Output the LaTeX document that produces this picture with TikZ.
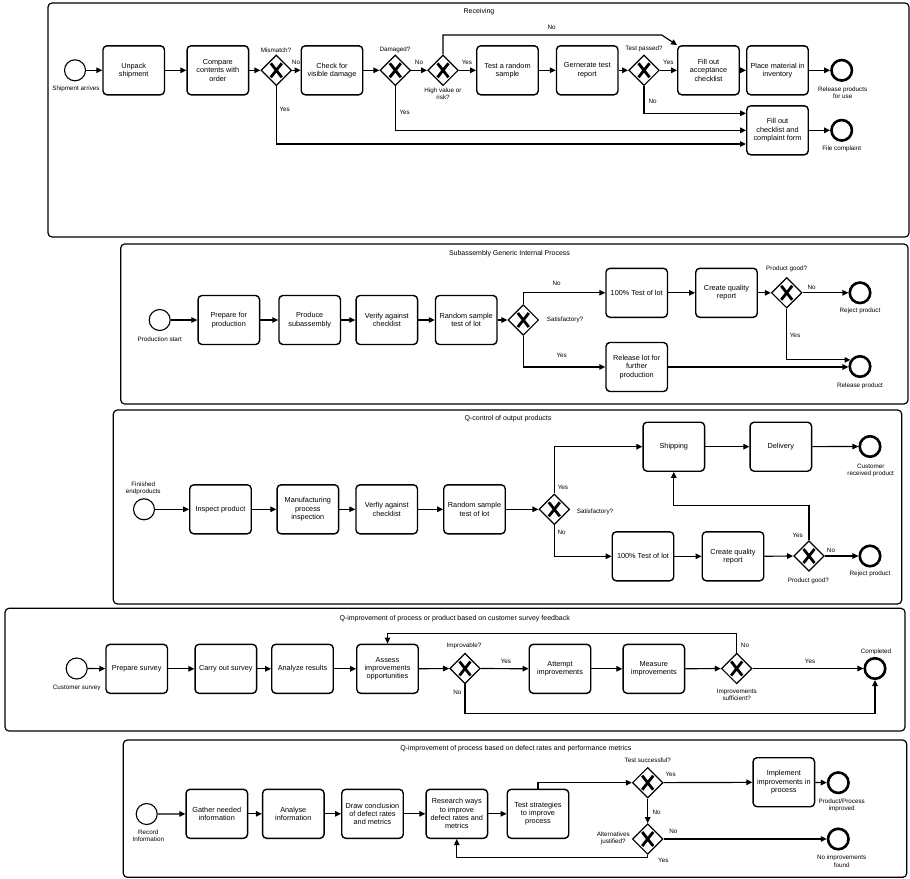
\documentclass[tikz,border=0pt]{standalone}
\usepackage{fontspec}
\setmainfont{Liberation Sans}
\usetikzlibrary{arrows.meta,shapes.geometric,calc}
\begin{document}
\begin{tikzpicture}[x=1pt,y=-1pt,
  task/.style={draw, rounded corners=4pt, line width=1.4pt, minimum width=61.5pt, minimum height=49pt, align=center, inner sep=1pt, font=\fontsize{7.3}{8.3}\selectfont},
  gw/.style={draw, diamond, aspect=1, line width=1.2pt, minimum width=30.6pt, minimum height=30.6pt, inner sep=0pt,
    path picture={\draw[line width=2.8pt] ($(path picture bounding box.center)+(-5.5,-7)$) -- ($(path picture bounding box.center)+(5.5,7)$) ($(path picture bounding box.center)+(-5.5,7)$) -- ($(path picture bounding box.center)+(5.5,-7)$);}},
  startev/.style={draw, circle, line width=1.1pt, minimum size=21pt, inner sep=0pt},
  endev/.style={draw, circle, line width=2.6pt, minimum size=20.5pt, inner sep=0pt},
  lbl/.style={font=\fontsize{6.3}{7.2}\selectfont, align=center, inner sep=0pt},
  flow/.style={line width=1.2pt, -{Triangle[length=6pt,width=5.5pt]}},
  pool/.style={draw, rounded corners=4pt, line width=1.2pt},
  title/.style={font=\fontsize{7}{8}\selectfont, inner sep=0pt}]
\fill[white] (0,0) rectangle (910,878);
\useasboundingbox (0,0) rectangle (910,878);

% ================= Pool 1: Receiving
\draw[pool] (48,3) rectangle (909,237);
\node[title] (t1) at (479,12) {Receiving};
\node[startev] (s1) at (75,70.3) {};
\node[lbl] (s1l) at (76,89) {Shipment arrives};
\node[task] (unpack) at (133.7,70.3) {Unpack\\shipment};
\node[task] (compare) at (217.8,70.3) {Compare\\contents with\\order};
\node[gw] (mism) at (276.3,70.3) {};
\node[lbl] (misml) at (276,50.7) {Mismatch?};
\node[task] (check) at (332,70.3) {Check for\\visible damage};
\node[gw] (dam) at (395.3,70.3) {};
\node[lbl] (daml) at (395,50) {Damaged?};
\node[gw] (hv) at (443,70.3) {};
\node[lbl] (hvl) at (443,94) {High value or\\risk?};
\node[task] (test) at (507.5,70.3) {Test a random\\sample};
\node[task] (gen) at (587.2,70.3) {Gernerate test\\report};
\node[gw] (tp) at (644,70.3) {};
\node[lbl] (tpl) at (644,49.3) {Test passed?};
\node[task] (accept) at (708.5,70.3) {Fill out\\acceptance\\checklist};
\node[task] (place) at (777.5,70.3) {Place material in\\inventory};
\node[endev] (e1) at (841.7,70.3) {};
\node[lbl] (e1l) at (842.7,93) {Release products\\for use};
\node[task] (compl) at (777.5,130.3) {Fill out\\checklist and\\complaint form};
\node[endev] (e2) at (841.7,130.3) {};
\node[lbl] (e2l) at (841.7,149) {File complaint};
\draw[flow] (s1) -- (unpack);
\draw[flow] (unpack) -- (compare);
\draw[flow] (compare) -- (mism);
\draw[flow] (mism) -- (check);
\draw[flow] (check) -- (dam);
\draw[flow] (dam) -- (hv);
\draw[flow] (hv) -- (test);
\draw[flow] (test) -- (gen);
\draw[flow] (gen) -- (tp);
\draw[flow] (tp) -- (accept);
\draw[flow] (accept) -- (place);
\draw[flow] (place) -- (e1);
\draw[flow] (compl) -- (e2);
\coordinate (c1a) at (443,35);
\coordinate (c1b) at (661.7,35);
\draw[flow] (hv.north) -- (c1a) -- (c1b) -- (accept.north west);
\draw[flow] (mism.south) |- ($(compl.west)+(0,13.7)$);
\draw[flow] (dam.south) |- (compl.west);
\draw[flow] (tp.south) |- ($(compl.west)+(0,-17)$);
\node[lbl] (n1a) at (296,62) {No};
\node[lbl] (n1b) at (419,62) {No};
\node[lbl] (n1c) at (467,62) {Yes};
\node[lbl] (n1d) at (668.3,62) {Yes};
\node[lbl] (n1e) at (551.7,27.3) {No};
\node[lbl] (n1f) at (284.7,109) {Yes};
\node[lbl] (n1g) at (404.7,112.7) {Yes};
\node[lbl] (n1h) at (652.7,101) {No};

% ================= Pool 2: Subassembly
\draw[pool] (120.7,244) rectangle (908,404);
\node[title] (t2) at (509.5,253.3) {Subassembly Generic Internal Process};
\node[startev] (s2) at (159.7,320) {};
\node[lbl] (s2l) at (159.7,339.3) {Production start};
\node[task] (prep) at (228.8,320) {Prepare for\\production};
\node[task] (prod) at (309.7,320) {Produce\\subassembly};
\node[task] (verify) at (386.8,320) {Verify against\\checklist};
\node[task] (rand2) at (466.2,320) {Random sample\\test of lot};
\node[gw] (sat2) at (523.3,320) {};
\node[lbl] (sat2l) at (565,320.3) {Satisfactory?};
\node[task] (full2) at (636.7,292.8) {100\% Test of lot};
\node[task] (qrep2) at (726.5,292.8) {Create quality\\report};
\node[gw] (pg2) at (786.7,292.8) {};
\node[lbl] (pg2l) at (786.7,269.3) {Product good?};
\node[endev] (rej2) at (860,292.8) {};
\node[lbl] (rej2l) at (860,311) {Reject product};
\node[task] (rel2) at (636.7,367) {Release lot for\\further\\production};
\node[endev] (rel2e) at (860,366.5) {};
\node[lbl] (rel2el) at (860,385.7) {Release product};
\draw[flow] (s2) -- (prep);
\draw[flow] (prep) -- (prod);
\draw[flow] (prod) -- (verify);
\draw[flow] (verify) -- (rand2);
\draw[flow] (rand2) -- (sat2);
\draw[flow] (sat2.north) |- (full2.west);
\draw[flow] (sat2.south) |- (rel2.west);
\draw[flow] (full2) -- (qrep2);
\draw[flow] (qrep2) -- (pg2);
\draw[flow] (pg2) -- (rej2);
\draw[flow] (pg2.south) |- (rel2e.145);
\draw[flow] (rel2.east) -- ($(rel2e.west)+(0,0.5)$);
\node[lbl] (n2a) at (556.7,283.3) {No};
\node[lbl] (n2b) at (561.7,355.7) {Yes};
\node[lbl] (n2c) at (811.7,287.3) {No};
\node[lbl] (n2d) at (795,335) {Yes};

% ================= Pool 3: Q-control
\draw[pool] (113.3,410) rectangle (901.7,604);
\node[title] (t3) at (508,419) {Q-control of output products};
\node[startev] (s3) at (144,509.3) {};
\node[lbl] (s3l) at (143.3,488) {Finished\\endproducts};
\node[task] (insp) at (220.5,509.3) {Inspect product};
\node[task] (mfg) at (307.8,509.3) {Manufacturing\\process\\inspection};
\node[task] (verf) at (386.7,509.3) {Verfiy against\\checklist};
\node[task] (rand3) at (474.5,509.3) {Random sample\\test of lot};
\node[gw] (sat3) at (554.3,509.3) {};
\node[lbl] (sat3l) at (595,512) {Satisfactory?};
\node[task] (ship) at (673.8,446.7) {Shipping};
\node[task] (deliv) at (780.8,446.7) {Delivery};
\node[endev] (cust) at (870,446.5) {};
\node[lbl] (custl) at (870.7,470.3) {Customer\\received product};
\node[task] (full3) at (643,556.3) {100\% Test of lot};
\node[task] (qrep3) at (733,556.3) {Create quality\\report};
\node[gw] (pg3) at (809,556) {};
\node[lbl] (pg3l) at (808.3,580.7) {Product good?};
\node[endev] (rej3) at (870,556) {};
\node[lbl] (rej3l) at (870,574) {Reject product};
\draw[flow] (s3) -- (insp);
\draw[flow] (insp) -- (mfg);
\draw[flow] (mfg) -- (verf);
\draw[flow] (verf) -- (rand3);
\draw[flow] (rand3) -- (sat3);
\draw[flow] (sat3.north) |- (ship.west);
\draw[flow] (sat3.south) |- (full3.west);
\draw[flow] (ship) -- (deliv);
\draw[flow] (deliv) -- (cust);
\draw[flow] (full3) -- (qrep3);
\draw[flow] (qrep3) -- (pg3);
\draw[flow] (pg3) -- (rej3);
\coordinate (c3a) at (809,505.7);
\draw[flow] (pg3.north) -- (c3a) -| (ship.south);
\node[lbl] (n3a) at (563,487.3) {Yes};
\node[lbl] (n3b) at (561.7,532.7) {No};
\node[lbl] (n3c) at (797.7,535) {Yes};
\node[lbl] (n3d) at (831,550) {No};

% ================= Pool 4: customer survey
\draw[pool] (5,608.3) rectangle (905,731);
\node[title] (t4) at (454.7,619) {Q-improvement of process or product based on customer survey feedback};
\node[startev] (s4) at (76.7,668.5) {};
\node[lbl] (s4l) at (76.7,687.7) {Customer survey};
\node[task] (psurv) at (136.7,668.8) {Prepare survey};
\node[task] (csurv) at (225.8,668.8) {Carry out survey};
\node[task] (anres) at (302.5,668.8) {Analyze results};
\node[task] (assess) at (387.5,668.8) {Assess\\improvements\\opportunities};
\node[gw] (impr) at (465,668.5) {};
\node[lbl] (imprl) at (464,645.7) {Improvable?};
\node[task] (attempt) at (560,668.8) {Attempt\\improvements};
\node[task] (measure) at (653.8,668.8) {Measure\\improvements};
\node[gw] (suff) at (736.7,668.5) {};
\node[lbl] (suffl) at (736.7,694.5) {Improvements\\sufficient?};
\node[endev] (compl4) at (875,668.5) {};
\node[lbl] (compl4l) at (876,652.3) {Completed};
\draw[flow] (s4) -- (psurv);
\draw[flow] (psurv) -- (csurv);
\draw[flow] (csurv) -- (anres);
\draw[flow] (anres) -- (assess);
\draw[flow] (assess) -- (impr);
\draw[flow] (impr) -- (attempt);
\draw[flow] (attempt) -- (measure);
\draw[flow] (measure) -- (suff);
\draw[flow] (suff) -- (compl4);
\coordinate (c4a) at (465,713.7);
\draw[flow] (impr.south) -- (c4a) -| (compl4.south);
\coordinate (c4b) at (736.7,633.3);
\draw[flow] (suff.north) -- (c4b) -| (assess.north);
\node[lbl] (n4a) at (506,661) {Yes};
\node[lbl] (n4b) at (457.3,692.3) {No};
\node[lbl] (n4c) at (745,645) {No};
\node[lbl] (n4d) at (810,661) {Yes};

% ================= Pool 5: defect rates
\draw[pool] (123.3,740) rectangle (906.7,877.3);
\node[title] (t5) at (515.8,749) {Q-improvement of process based on defect rates and performance metrics};
\node[startev] (s5) at (146.7,814) {};
\node[lbl] (s5l) at (148.3,836) {Record\\Information};
\node[task] (gather) at (216.8,813.8) {Gather needed\\information};
\node[task] (analyse) at (293.3,813.8) {Analyse\\information};
\node[task] (drawc) at (372.5,813.8) {Draw conclusion\\of defect rates\\and metrics};
\node[task] (research) at (456.8,813.8) {Research ways\\to improve\\defect rates and\\metrics};
\node[task] (tstrat) at (538,813.8) {Test strategies\\to improve\\process};
\node[gw] (tsucc) at (647.7,782.7) {};
\node[lbl] (tsuccl) at (647.7,760) {Test successful?};
\node[task] (implem) at (783.8,782.2) {Implement\\improvements in\\process};
\node[endev] (improved) at (838.3,782.7) {};
\node[lbl] (improvedl) at (841.7,805.3) {Product/Process\\improved};
\node[gw] (altj) at (647.7,839) {};
\node[lbl] (altjl) at (613.3,838) {Alternatives\\justified?};
\node[endev] (noimp) at (838.3,839) {};
\node[lbl] (noimpl) at (841.7,861.3) {No improvements\\found};
\draw[flow] (s5) -- (gather);
\draw[flow] (gather) -- (analyse);
\draw[flow] (analyse) -- (drawc);
\draw[flow] (drawc) -- (research);
\draw[flow] (research) -- (tstrat);
\draw[flow] (tstrat.north) |- (tsucc.west);
\draw[flow] (tsucc) -- (implem);
\draw[flow] (implem) -- (improved);
\draw[flow] (tsucc) -- (altj);
\draw[flow] (altj) -- (noimp);
\coordinate (c5a) at (647.7,857.7);
\draw[flow] (altj.south) -- (c5a) -| (research.south);
\node[lbl] (n5a) at (670.7,774.3) {Yes};
\node[lbl] (n5b) at (656.7,812.3) {No};
\node[lbl] (n5c) at (673.3,831.7) {No};
\node[lbl] (n5d) at (663.3,860.7) {Yes};
\end{tikzpicture}
\end{document}
